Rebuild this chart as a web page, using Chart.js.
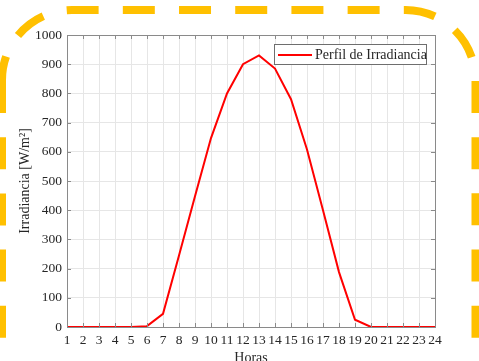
<!DOCTYPE html>
<html lang="es">
<head>
  <meta charset="UTF-8" />
  <title>Perfil de Irradiancia</title>
  <script src="https://cdn.jsdelivr.net/npm/chart.js"></script>
  <style>
    html, body { margin: 0; padding: 0; background: #fff; }
    #contenedor { width: 479px; height: 361px; position: relative; }
  </style>
</head>
<body>
  <div id="contenedor">
    <canvas id="graficoIrradiancia" width="479" height="361"></canvas>
  </div>

<script>
  // datos
  const horas = [1, 2, 3, 4, 5, 6, 7, 8, 9, 10, 11, 12, 13, 14, 15, 16, 17, 18, 19, 20, 21, 22, 23, 24];
  const irradiancia = [0, 0, 0, 0, 0, 3, 45, 245, 448, 647, 800, 900, 930, 885, 780, 608, 400, 188, 25, 0, 0, 0, 0, 0];
  const ticksY = [0, 100, 200, 300, 400, 500, 600, 700, 800, 900, 1000];
  const nombreSerie = 'Perfil de Irradiancia';

  const fuente = 'Liberation Serif';
  const colorTexto = '#262626';
  const colorEje = '#8a8a8a';

  // caja de ejes, marcas hacia dentro, leyenda y borde punteado
  const decoracion = {
    id: 'decoracion',
    afterDraw(chart) {
      const { ctx, chartArea: a, scales } = chart;
      ctx.save();

      // marcas de los ejes (hacia dentro)
      ctx.strokeStyle = colorEje;
      ctx.lineWidth = 1;
      ctx.beginPath();
      horas.forEach(h => {
        const x = Math.round(scales.x.getPixelForValue(h)) + 0.5;
        ctx.moveTo(x, a.bottom); ctx.lineTo(x, a.bottom - 4);
        ctx.moveTo(x, a.top); ctx.lineTo(x, a.top + 4);
      });
      ticksY.forEach(v => {
        const y = Math.round(scales.y.getPixelForValue(v)) + 0.5;
        ctx.moveTo(a.left, y); ctx.lineTo(a.left + 4, y);
        ctx.moveTo(a.right, y); ctx.lineTo(a.right - 4, y);
      });
      ctx.stroke();

      // caja
      ctx.strokeRect(Math.round(a.left) + 0.5, Math.round(a.top) + 0.5,
        Math.round(a.right - a.left), Math.round(a.bottom - a.top));

      // leyenda
      const lx = 274.5, ly = 44.5, lw = 152, lh = 20;
      ctx.fillStyle = '#fff';
      ctx.fillRect(lx, ly, lw, lh);
      ctx.strokeStyle = '#6e6e6e';
      ctx.strokeRect(lx, ly, lw, lh);
      ctx.strokeStyle = '#ff0000';
      ctx.lineWidth = 2;
      ctx.beginPath();
      ctx.moveTo(278, 55); ctx.lineTo(312, 55);
      ctx.stroke();
      ctx.fillStyle = colorTexto;
      ctx.font = '14px "' + fuente + '"';
      ctx.textBaseline = 'middle';
      ctx.textAlign = 'left';
      ctx.fillText(nombreSerie, 315, 55);

      // borde punteado naranja (marco redondeado)
      ctx.strokeStyle = '#ffc000';
      ctx.lineWidth = 8;
      ctx.setLineDash([32, 24.2]);
      ctx.lineDashOffset = 6;
      ctx.beginPath();
      ctx.moveTo(2, 82);
      ctx.lineTo(2, 80);
      ctx.arc(72, 80, 70, Math.PI, 1.5 * Math.PI);
      ctx.lineTo(405.5, 10);
      ctx.arc(405.5, 80, 70, 1.5 * Math.PI, 2 * Math.PI);
      ctx.lineTo(475.5, 400);
      ctx.stroke();

      ctx.lineDashOffset = 0;
      ctx.beginPath();
      ctx.moveTo(2, 81);
      ctx.lineTo(2, 400);
      ctx.stroke();

      ctx.restore();
    }
  };

  const datos = {
    datasets: [{
      label: nombreSerie,
      data: horas.map((h, i) => ({ x: h, y: irradiancia[i] })),
      borderColor: '#ff0000',
      backgroundColor: '#ff0000',
      borderWidth: 2,
      pointRadius: 0,
      tension: 0,
      fill: false
    }]
  };

  const config = {
    type: 'line',
    data: datos,
    plugins: [decoracion],
    options: {
      responsive: false,
      animation: false,
      layout: { padding: { left: 0, right: 44, top: 35, bottom: 0 } },
      plugins: {
        legend: { display: false },
        tooltip: { enabled: false }
      },
      scales: {
        x: {
          type: 'linear',
          min: 1,
          max: 24,
          afterFit: s => { s.height = 34; },
          afterBuildTicks: s => { s.ticks = horas.map(h => ({ value: h })); },
          grid: { color: '#e6e6e6', drawTicks: false },
          border: { display: false },
          ticks: {
            color: colorTexto,
            padding: 5,
            maxRotation: 0,
            autoSkip: false,
            callback: v => String(v),
            font: { family: fuente, size: 13.5 }
          },
          title: {
            display: true,
            text: 'Horas',
            color: colorTexto,
            padding: { top: 0, bottom: -6 },
            font: { family: fuente, size: 14 }
          }
        },
        y: {
          min: 0,
          max: 1000,
          afterFit: s => { s.width = 67; },
          afterBuildTicks: s => { s.ticks = ticksY.map(v => ({ value: v })); },
          grid: { color: '#e6e6e6', drawTicks: false },
          border: { display: false },
          ticks: {
            color: colorTexto,
            padding: 5,
            callback: v => String(v),
            font: { family: fuente, size: 13.5 }
          },
          title: {
            display: true,
            text: 'Irradiancia [W/m²]',
            color: colorTexto,
            padding: { top: 17, bottom: 0 },
            font: { family: fuente, size: 14 }
          }
        }
      }
    }
  };

  new Chart(document.getElementById('graficoIrradiancia').getContext('2d'), config);
</script>
</body>
</html>
